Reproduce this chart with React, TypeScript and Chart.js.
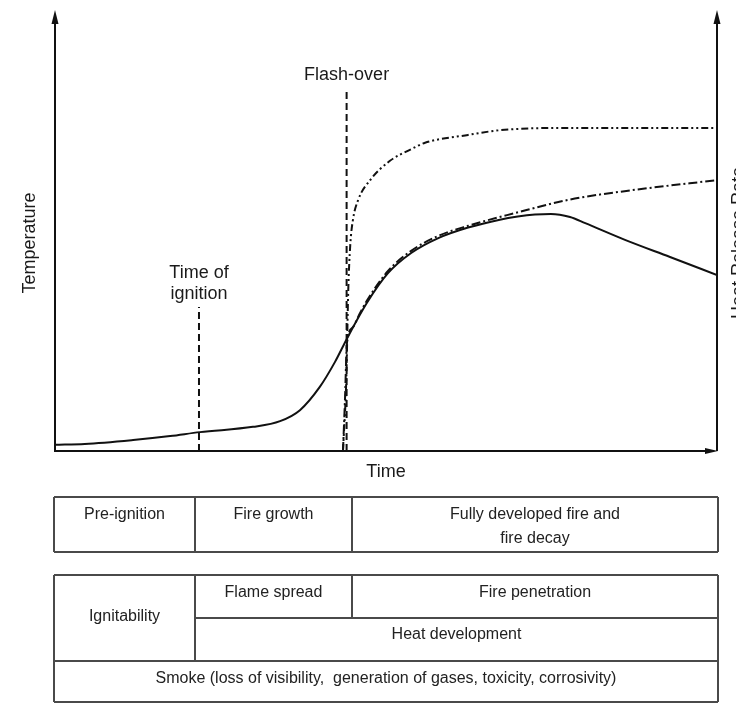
import React, { useEffect, useRef } from "react";
import { Chart, registerables } from "chart.js";

Chart.register(...registerables);

// ---- Data (time and values in arbitrary 0–100 units) ----
const temperatureTime = [0, 4.5, 11.8, 17.4, 21.9, 29.9, 34.0, 37.0, 40.0, 42.3, 44.0, 47.1, 50.3, 53.8, 57.9, 62.4, 67.2, 69.9, 72.5, 74.9, 77.8, 80.1, 86.1, 92.9, 100];
const temperatureValues = [1.4, 1.6, 2.5, 3.4, 4.3, 5.5, 6.8, 9.3, 14.6, 20.3, 25.3, 33.7, 40.5, 45.1, 48.5, 50.9, 52.7, 53.4, 53.85, 54.0, 53.3, 51.9, 48.1, 44.2, 40.1];

const upperTime = [43.5, 44.0, 44.3, 44.6, 45.0, 45.8, 47.6, 50.6, 53.6, 55.9, 62.4, 67.4, 77.5, 100];
const upperValues = [0, 16.2, 36.7, 46.9, 52.6, 57.2, 61.7, 66.1, 68.6, 70.2, 72.0, 73.1, 73.6, 73.6];

const middleTime = [43.5, 43.8, 44.1, 45.0, 46.0, 47.1, 50.3, 53.8, 57.9, 62.4, 69.5, 77.5, 87.6, 100];
const middleValues = [0, 11.6, 24.6, 28.2, 31.2, 34.2, 41.0, 45.6, 49.0, 51.3, 54.2, 57.2, 59.5, 61.7];

const markerTimes = [21.75, 44.05];
const markerTops = [32.8, 82.7];
const markerLabels = [["Time of", "ignition"], ["Flash-over"]];

const xAxisTitle = "Time";
const leftAxisTitle = "Temperature";
const rightAxisTitle = "Heat Release Rate";

const phaseLabels = ["Pre-ignition", "Fire growth", "Fully developed fire and", "fire decay"];
const propertyLabels = [
  "Ignitability",
  "Flame spread",
  "Fire penetration",
  "Heat development",
  "Smoke (loss of visibility,  generation of gases, toxicity, corrosivity)",
];

const FONT = "'Liberation Sans', Arial, sans-serif";
const INK = "#111";

const toPoints = (xs: number[], ys: number[]) => xs.map((x, i) => ({ x, y: ys[i] }));

const annotationPlugin = {
  id: "annotations",
  afterDatasetsDraw(chart: any) {
    const { ctx, chartArea, scales } = chart;
    const { left, right, top, bottom } = chartArea;
    ctx.save();
    ctx.strokeStyle = INK;
    ctx.fillStyle = INK;
    ctx.lineWidth = 2;
    ctx.setLineDash([]);
    // axes
    ctx.beginPath();
    ctx.moveTo(left, top + 4);
    ctx.lineTo(left, bottom);
    ctx.lineTo(right - 4, bottom);
    ctx.moveTo(right, top + 4);
    ctx.lineTo(right, bottom);
    ctx.stroke();
    // arrowheads
    const arrowUp = (x: number, y: number) => {
      ctx.beginPath();
      ctx.moveTo(x, y - 2);
      ctx.lineTo(x - 3.5, y + 12);
      ctx.lineTo(x + 3.5, y + 12);
      ctx.closePath();
      ctx.fill();
    };
    arrowUp(left, top);
    arrowUp(right, top);
    ctx.beginPath();
    ctx.moveTo(right + 1, bottom);
    ctx.lineTo(right - 12, bottom - 3);
    ctx.lineTo(right - 12, bottom + 3);
    ctx.closePath();
    ctx.fill();

    // marker labels
    ctx.font = `18px ${FONT}`;
    ctx.textAlign = "center";
    ctx.textBaseline = "middle";
    ctx.fillStyle = "#1a1a1a";
    markerLabels.forEach((lines, i) => {
      const px = scales.x.getPixelForValue(markerTimes[i]);
      const py = scales.y.getPixelForValue(markerTops[i]);
      lines.forEach((line, j) => {
        const offset = (lines.length - j) * 21 - 8;
        ctx.fillText(line, px, py - offset);
      });
    });

    // axis titles
    ctx.fillText(xAxisTitle, (left + right) / 2, bottom + 21);
    const cy = 243;
    ctx.save();
    ctx.translate(30, cy);
    ctx.rotate(-Math.PI / 2);
    ctx.fillText(leftAxisTitle, 0, 0);
    ctx.restore();
    ctx.save();
    ctx.translate(739, cy);
    ctx.rotate(-Math.PI / 2);
    ctx.fillText(rightAxisTitle, 0, 0);
    ctx.restore();
    ctx.restore();
  },
};

function ChartCanvas() {
  const ref = useRef<HTMLCanvasElement | null>(null);
  useEffect(() => {
    if (!ref.current) return;
    const markerSets = markerTimes.map((t, i) => ({
      data: [
        { x: t, y: 0 },
        { x: t, y: markerTops[i] },
      ],
      borderColor: INK,
      borderWidth: 2,
      borderDash: [7, 4],
      pointRadius: 0,
      fill: false,
    }));
    const chart = new Chart(ref.current, {
      type: "line",
      data: {
        datasets: [
          {
            data: toPoints(temperatureTime, temperatureValues),
            borderColor: INK,
            borderWidth: 2,
            pointRadius: 0,
            cubicInterpolationMode: "monotone",
            fill: false,
          },
          {
            data: toPoints(upperTime, upperValues),
            borderColor: INK,
            borderWidth: 2,
            borderDash: [7, 3, 2, 3, 2, 3],
            pointRadius: 0,
            cubicInterpolationMode: "monotone",
            fill: false,
          },
          {
            data: toPoints(middleTime, middleValues),
            borderColor: INK,
            borderWidth: 2,
            borderDash: [9, 3, 2, 3],
            pointRadius: 0,
            cubicInterpolationMode: "monotone",
            fill: false,
          },
          ...markerSets,
        ] as any,
      },
      options: {
        animation: false,
        responsive: false,
        maintainAspectRatio: false,
        layout: { padding: { left: 55, right: 19, top: 12, bottom: 255 } },
        scales: {
          x: { type: "linear", min: 0, max: 100, display: false },
          y: { type: "linear", min: 0, max: 100, display: false },
        },
        plugins: { legend: { display: false }, tooltip: { enabled: false } },
        elements: { point: { radius: 0 } },
      } as any,
      plugins: [annotationPlugin],
    });
    return () => chart.destroy();
  }, []);
  return <canvas ref={ref} width={736} height={706} style={{ position: "absolute", left: 0, top: 0, width: 736, height: 706 }} />;
}

const LINE = "#4a4a4a";

function HLine({ x1, x2, y }: { x1: number; x2: number; y: number }) {
  return <div style={{ position: "absolute", left: x1, top: y - 0.75, width: x2 - x1, height: 1.5, background: LINE }} />;
}
function VLine({ x, y1, y2 }: { x: number; y1: number; y2: number }) {
  return <div style={{ position: "absolute", left: x - 0.75, top: y1, width: 1.5, height: y2 - y1, background: LINE }} />;
}
function Label({ cx, cy, text }: { cx: number; cy: number; text: string }) {
  return (
    <div
      style={{
        position: "absolute",
        left: cx,
        top: cy,
        transform: "translate(-50%, -50%)",
        whiteSpace: "pre",
        font: `16px ${FONT}`,
        lineHeight: "18px",
        color: "#222",
      }}
    >
      {text}
    </div>
  );
}

export default function App() {
  const L = 54, R = 718, C1 = 195, C2 = 352;
  return (
    <div style={{ position: "fixed", left: 0, top: 0, width: 736, height: 706, background: "#fff", overflow: "hidden" }}>
      <ChartCanvas />
      {/* phase table */}
      <HLine x1={L} x2={R} y={497} />
      <HLine x1={L} x2={R} y={552} />
      <VLine x={L} y1={497} y2={552} />
      <VLine x={C1} y1={497} y2={552} />
      <VLine x={C2} y1={497} y2={552} />
      <VLine x={R} y1={497} y2={552} />
      <Label cx={(L + C1) / 2} cy={514} text={phaseLabels[0]} />
      <Label cx={(C1 + C2) / 2} cy={514} text={phaseLabels[1]} />
      <Label cx={(C2 + R) / 2} cy={514} text={phaseLabels[2]} />
      <Label cx={(C2 + R) / 2} cy={538} text={phaseLabels[3]} />
      {/* property table */}
      <HLine x1={L} x2={R} y={575} />
      <HLine x1={C1} x2={R} y={618} />
      <HLine x1={L} x2={R} y={661} />
      <HLine x1={L} x2={R} y={702} />
      <VLine x={L} y1={575} y2={702} />
      <VLine x={R} y1={575} y2={702} />
      <VLine x={C1} y1={575} y2={661} />
      <VLine x={C2} y1={575} y2={618} />
      <Label cx={(L + C1) / 2} cy={616} text={propertyLabels[0]} />
      <Label cx={(C1 + C2) / 2} cy={592} text={propertyLabels[1]} />
      <Label cx={(C2 + R) / 2} cy={592} text={propertyLabels[2]} />
      <Label cx={(C1 + R) / 2} cy={634} text={propertyLabels[3]} />
      <Label cx={(L + R) / 2} cy={678} text={propertyLabels[4]} />
    </div>
  );
}
